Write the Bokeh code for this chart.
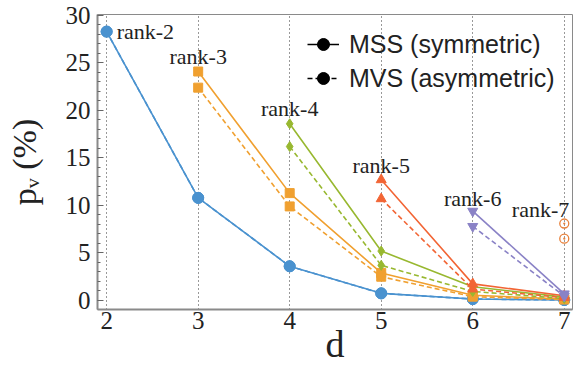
import numpy as np
from bokeh.plotting import figure
from bokeh.models import (FixedTicker, Legend, LegendItem, ColumnDataSource, Range1d)
from bokeh.core.properties import value
from bokeh.embed import file_html
from bokeh.resources import INLINE

# ---- data ----
x_ticks = [2, 3, 4, 5, 6, 7]
y_ticks = [0, 5, 10, 15, 20, 25, 30]

rank2_d = [2, 3, 4, 5, 6, 7]
rank2_mss = [28.3, 10.8, 3.6, 0.75, 0.15, 0.05]
rank2_mvs = [28.3, 10.8, 3.6, 0.75, 0.15, 0.05]

rank3_d = [3, 4, 5, 6, 7]
rank3_mss = [24.1, 11.3, 2.9, 0.55, 0.15]
rank3_mvs = [22.4, 9.9, 2.5, 0.4, 0.1]

rank4_d = [4, 5, 6, 7]
rank4_mss = [18.6, 5.2, 1.45, 0.35]
rank4_mvs = [16.2, 3.7, 0.95, 0.2]

rank5_d = [5, 6, 7]
rank5_mss = [12.7, 1.75, 0.5]
rank5_mvs = [10.7, 1.2, 0.3]

rank6_d = [6, 7]
rank6_mss = [9.4, 0.7]
rank6_mvs = [7.8, 0.45]

rank7_d = [7]
rank7_mss = [8.1]
rank7_mvs = [6.5]

rank_names = ["rank-2", "rank-3", "rank-4", "rank-5", "rank-6", "rank-7"]
legend_labels = ["MSS (symmetric)", "MVS (asymmetric)"]
x_label = "d"
y_label = "p\u1d65 (%)"

colors = ["#4A92CF", "#F0A030", "#98B830", "#F26535", "#8A82C6", "#E8803A"]
markers = ["circle", "square", "diamond", "triangle", "inverted_triangle", "circle_dot"]
sizes = [11, 9, 10, 10, 10, 9]

series = [
    (rank2_d, rank2_mss, rank2_mvs),
    (rank3_d, rank3_mss, rank3_mvs),
    (rank4_d, rank4_mss, rank4_mvs),
    (rank5_d, rank5_mss, rank5_mvs),
    (rank6_d, rank6_mss, rank6_mvs),
    (rank7_d, rank7_mss, rank7_mvs),
]

p = figure(width=573, height=375, output_backend="svg", toolbar_location=None,
           x_range=Range1d(1.9, 7.09), y_range=Range1d(-0.95, 30.1),
           min_border_left=97, min_border_right=1, min_border_top=14,
           min_border_bottom=66)
p.background_fill_color = "white"
p.border_fill_color = "white"
p.outline_line_color = "#8a8a8a"
p.outline_line_width = 1

serif = "Liberation Serif"
dark = "#222222"

# grid: vertical dotted lines only
p.ygrid.visible = False
p.xgrid.ticker = FixedTicker(ticks=x_ticks)
p.xgrid.grid_line_color = "#333333"
p.xgrid.grid_line_dash = "1 3"
p.xgrid.grid_line_width = 1

# axes
p.xaxis.ticker = FixedTicker(ticks=x_ticks)
p.yaxis.ticker = FixedTicker(ticks=y_ticks, minor_ticks=list(range(0, 31)))
for ax in (p.xaxis[0], p.yaxis[0]):
    ax.axis_line_color = "#8a8a8a"
    ax.axis_line_width = 2
    ax.major_tick_line_color = "#666666"
    ax.minor_tick_line_color = "#666666"
    ax.major_tick_out = 0
    ax.minor_tick_out = 0
    ax.major_label_text_font = serif
    ax.major_label_text_font_size = "25px"
    ax.major_label_text_color = dark
    ax.axis_label_text_font = serif
    ax.axis_label_text_font_style = "normal"
    ax.axis_label_text_color = dark
p.yaxis.major_tick_in = 6
p.yaxis.minor_tick_in = 3
p.xaxis.major_tick_in = 0
p.xaxis.minor_tick_in = 0
p.xaxis.major_label_standoff = 2
p.yaxis.major_label_standoff = 7
p.xaxis.axis_label = x_label
p.xaxis.axis_label_text_font_size = "38px"
p.xaxis.axis_label_standoff = -9
p.yaxis.axis_label = y_label
p.yaxis.axis_label_text_font_size = "34px"
p.yaxis.axis_label_standoff = 20

# series
for (dd, mss, mvs), c, m, s in zip(series, colors, markers, sizes):
    fill = None if m == "circle_dot" else c
    for vals, dash in ((mvs, "5 3"), (mss, "solid")):
        if len(dd) > 1:
            p.line(dd, vals, line_color=c, line_width=1.6, line_dash=dash)
        p.scatter(dd, vals, marker=m, size=s, fill_color=fill, line_color=c,
                  line_width=1.3 if m == "circle_dot" else 1)

# rank labels, anchored on each series' first MSS point
label_offsets = [(10, 0, "left"), (0, -15, "center"), (0, -15, "center"),
                 (0, -14, "center"), (0, -13, "center"), (5, -14, "right")]
for (dd, mss, mvs), name, (ox, oy, al) in zip(series, rank_names, label_offsets):
    p.text(x=[dd[0]], y=[mss[0]], text=[name], x_offset=ox, y_offset=oy,
           text_font=value(serif), text_font_size="22px", text_color=dark,
           text_align=al, text_baseline="middle")

# legend with black proxy glyphs
src = ColumnDataSource(dict(x=[np.nan], y=[np.nan]))
l1 = p.line("x", "y", source=src, line_color="black", line_width=1.5)
s1 = p.scatter("x", "y", source=src, size=7, color="black")
l2 = p.line("x", "y", source=src, line_color="black", line_width=1.5, line_dash="5 3")
s2 = p.scatter("x", "y", source=src, size=7, color="black")
legend = Legend(items=[LegendItem(label=legend_labels[0], renderers=[l1, s1]),
                       LegendItem(label=legend_labels[1], renderers=[l2, s2])],
                location=(210, 216), padding=0, margin=0, spacing=4,
                glyph_width=32, glyph_height=30, label_height=30,
                label_standoff=10, border_line_color=None,
                background_fill_alpha=0,
                label_text_font="Liberation Sans", label_text_font_size="25px",
                label_text_color=dark)
p.add_layout(legend)

open("out.html", "w").write(file_html(p, INLINE))
